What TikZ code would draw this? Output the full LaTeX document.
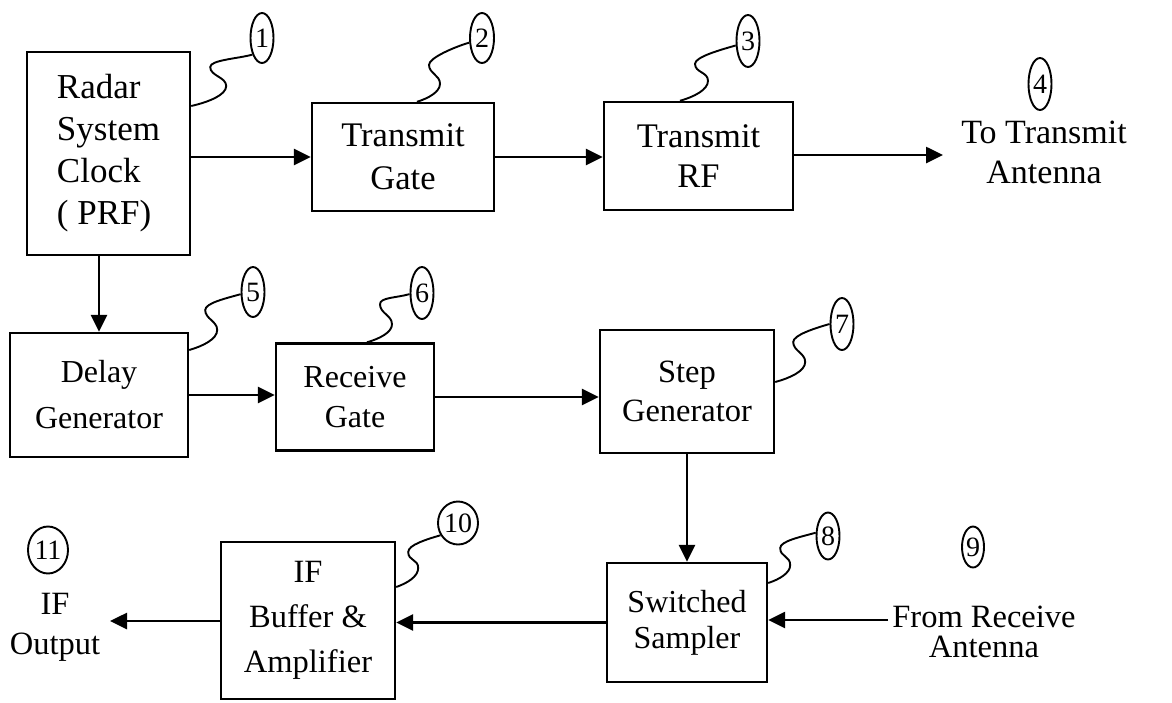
\documentclass[tikz,border=0pt]{standalone}
\usepackage{fontspec}
\setmainfont{Liberation Serif}
\usetikzlibrary{arrows.meta,shapes.geometric,calc}
\newcommand\myfs[2]{\fontsize{#1}{#2}\selectfont}
% #1 start, (#2,#3) right bump, (#4,#5) left bump (relative to start), #6 end
\newcommand\squig[6]{%
  \draw[lead] (#1) .. controls +({0.5*#2},{0.2*#3}) and +(0,{-0.45*#3}) .. ++(#2,#3)
    .. controls +(0,-9) and +(0,9) .. ($(#1)+(#4,#5)$)
    .. controls +(0,-7) and +(-14,4) .. (#6);}
\begin{document}
\begin{tikzpicture}[x=1pt,y=-1pt,
  box/.style={draw,line width=2.4pt,rectangle,inner sep=0pt,align=center},
  num/.style={draw,ellipse,line width=1.9pt,inner sep=0pt,font=\myfs{28}{28}},
  lbl/.style={align=center,inner sep=0pt},
  arr/.style={line width=2.6pt,-{Triangle[length=17pt,width=16pt]}},
  lead/.style={line width=1.9pt}]
\useasboundingbox (0,0) rectangle (1172,702);
% boxes
\node[box,align=left,minimum width=163,minimum height=203,font=\myfs{35}{42}] (b1) at (108.5,153.5) {Radar\\System\\Clock\\( PRF)};
\node[box,minimum width=182,minimum height=108,font=\myfs{34.5}{43}] (b2) at (403,157) {Transmit\\Gate};
\node[box,minimum width=189,minimum height=108,font=\myfs{34.5}{40}] (b3) at (698.5,156) {Transmit\\RF};
\node[box,minimum width=178,minimum height=124,font=\myfs{32}{46}] (b5) at (99,395) {Delay\\Generator};
\node[box,minimum width=158,minimum height=107,font=\myfs{32}{40}] (b6) at (355,397) {Receive\\Gate};
\node[box,minimum width=174,minimum height=123,font=\myfs{32.5}{39}] (b7) at (687,391.5) {Step\\Generator};
\node[box,minimum width=160,minimum height=119,font=\myfs{32}{36}] (b8) at (687,622.5) {Switched\\Sampler};
\node[box,minimum width=174,minimum height=157,font=\myfs{32.5}{45}] (b10) at (308,620.5) {IF\\Buffer \&\\Amplifier};
% free texts
\node[lbl,font=\myfs{34}{40}] (t4) at (1044,152) {To Transmit\\Antenna};
\node[lbl,font=\myfs{32.5}{30}] (t9) at (984,632) {From Receive\\Antenna};
\node[lbl,font=\myfs{32.5}{40}] (t11) at (55,627) {IF\\Output};
% number ellipses
\node[num,minimum width=23,minimum height=50] (e1) at (262,38) {1};
\node[num,minimum width=24,minimum height=50] (e2) at (482,38) {2};
\node[num,minimum width=23,minimum height=52] (e3) at (748,41) {3};
\node[num,minimum width=23,minimum height=52] (e4) at (1040,84) {4};
\node[num,minimum width=23,minimum height=50] (e5) at (253,292) {5};
\node[num,minimum width=23,minimum height=52] (e6) at (422,293) {6};
\node[num,minimum width=23,minimum height=52] (e7) at (842,324) {7};
\node[num,minimum width=23,minimum height=47] (e8) at (828,536) {8};
\node[num,minimum width=22,minimum height=41] (e9) at (973,547) {9};
\node[num,minimum width=40,minimum height=43] (e10) at (458,523) {10};
\node[num,minimum width=40,minimum height=47] (e11) at (48,550) {11};
% leaders
\squig{b1.east |- 0,106}{35}{-20}{19}{-39}{e1.240}
\squig{b2.north -| 417,0}{23}{-18}{12}{-37}{e2.200}
\squig{b3.north -| 680,0}{28}{-20}{15}{-37}{e3.200}
\squig{b5.east |- 0,350}{28}{-20}{16}{-40}{e5.190}
\squig{b6.north -| 367,0}{25}{-18}{13}{-38}{e6.185}
\squig{b7.east |- 0,382}{30}{-20}{18}{-40}{e7.180}
\squig{b8.east |- 0,583}{22}{-18}{12}{-35}{e8.165}
\squig{b10.east |- 0,587}{22}{-19}{12}{-35}{e10.215}
% connectors
\coordinate (o4) at (943,155);
\coordinate (i9) at (888,620);
\coordinate (o11) at (110,621);
\draw[arr] (b1.east |- b2.west) -- (b2.west);
\draw[arr] (b2.east) -- (b2.east -| b3.west);
\draw[arr] (b3.east |- o4) -- (o4);
\draw[arr] (b1.south -| b5.north) -- (b5.north);
\draw[arr] (b5.east) -- (b5.east -| b6.west);
\draw[arr] (b6.east) -- (b6.east -| b7.west);
\draw[arr] (b7.south) -- (b8.north);
\draw[arr] (i9) -- (i9 -| b8.east);
\draw[arr] (b8.west) -- (b8.west -| b10.east);
\draw[arr] (b10.west |- o11) -- (o11);
\end{tikzpicture}
\end{document}
